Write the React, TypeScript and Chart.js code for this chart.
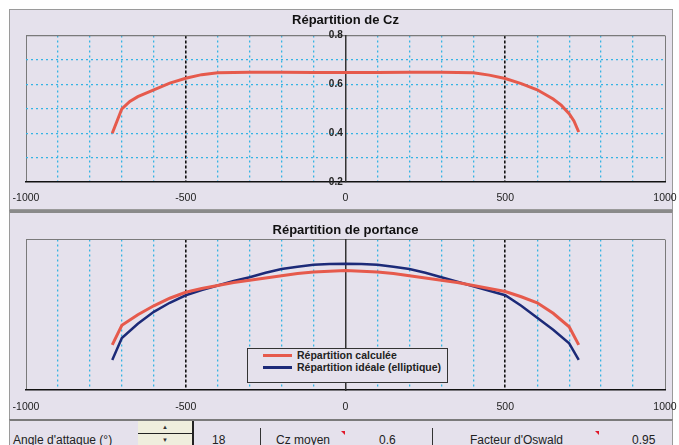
import React, { useEffect, useRef } from "react";
import { Chart, registerables } from "chart.js";

Chart.register(...registerables);

// ---- data ----
const xTickLabels = [-1000, -500, 0, 500, 1000];
const czTickLabels = [0.2, 0.4, 0.6, 0.8];

const czX = [-730, -715, -700, -675, -650, -600, -550, -500, -450, -400, -350, -300, -200, -100, 0, 100, 200, 300, 350, 400, 450, 500, 550, 600, 650, 675, 700, 715, 730];
const czY = [0.4, 0.45, 0.5, 0.53, 0.55, 0.578, 0.605, 0.625, 0.64, 0.648, 0.649, 0.65, 0.65, 0.649, 0.649, 0.649, 0.65, 0.65, 0.649, 0.648, 0.638, 0.624, 0.603, 0.578, 0.54, 0.515, 0.48, 0.45, 0.405];

const liftX = [-730, -700, -650, -600, -550, -500, -450, -400, -350, -300, -250, -200, -150, -100, -50, 0, 50, 100, 150, 200, 250, 300, 350, 400, 450, 500, 550, 600, 650, 700, 730];
const liftCalc = [0.3, 0.43, 0.5, 0.56, 0.61, 0.65, 0.675, 0.695, 0.715, 0.73, 0.745, 0.76, 0.775, 0.785, 0.79, 0.795, 0.79, 0.785, 0.775, 0.76, 0.745, 0.73, 0.715, 0.695, 0.675, 0.655, 0.62, 0.58, 0.51, 0.42, 0.3];
const liftIdeal = [0.2, 0.345, 0.44, 0.52, 0.58, 0.63, 0.665, 0.695, 0.725, 0.75, 0.78, 0.805, 0.82, 0.832, 0.838, 0.84, 0.838, 0.832, 0.82, 0.805, 0.78, 0.75, 0.72, 0.69, 0.66, 0.63, 0.56, 0.48, 0.4, 0.31, 0.2];

const seriesNames = ["Répartition calculée", "Répartition idéale (elliptique)"];
const titles = ["Répartition de Cz", "Répartition de portance"];

// ---- styles ----
const FONT = '"Liberation Sans", Arial, Helvetica, sans-serif';
const PANEL_BG = "#e5e1ec";
const GRID_BLUE = "#35b4e4";
const RED = "#e65a4c";
const BLUE = "#1c2a78";

function xGrid() {
  return {
    grid: {
      drawTicks: false,
      color: (c: any) => {
        const v = c.tick ? c.tick.value : undefined;
        if (v === undefined) return "transparent";
        if (Math.abs(v) === 1000) return "#7a7a7a";
        if (v === 0) return "#333";
        if (Math.abs(v) === 500) return "#111";
        return GRID_BLUE;
      },
      lineWidth: (c: any) => {
        const v = c.tick ? c.tick.value : 0;
        if (Math.abs(v) === 500) return 1.6;
        if (Math.abs(v) === 1000 || v === 0) return 1;
        return 1.3;
      },
    },
    border: {
      color: "#111",
      width: 1.5,
      dash: (c: any) => {
        const v = c.tick ? c.tick.value : undefined;
        if (v === undefined) return [];
        if (Math.abs(v) === 1000 || v === 0) return [];
        if (Math.abs(v) === 500) return [3, 2];
        return [2, 3];
      },
    },
  };
}

function xScale(labelPad: number, height: number) {
  return {
    type: "linear" as const,
    min: -1000,
    max: 1000,
    ticks: {
      stepSize: 100,
      autoSkip: false,
      maxRotation: 0,
      padding: labelPad,
      color: "#222",
      font: { family: FONT, size: 10.5 },
      callback: (v: any) => (xTickLabels.includes(Number(v)) ? String(v) : ""),
    },
    ...xGrid(),
    afterFit: (s: any) => {
      s.height = height;
      s.paddingLeft = 0;
      s.paddingRight = 0;
    },
  };
}

export default function App() {
  const topRef = useRef<HTMLCanvasElement | null>(null);
  const botRef = useRef<HTMLCanvasElement | null>(null);

  useEffect(() => {
    const top = new Chart(topRef.current as HTMLCanvasElement, {
      type: "line",
      data: {
        datasets: [
          {
            label: "Cz",
            data: czX.map((x, i) => ({ x, y: czY[i] })),
            borderColor: RED,
            borderWidth: 3,
            pointRadius: 0,
            tension: 0,
          },
        ],
      },
      options: {
        animation: false,
        responsive: false,
        devicePixelRatio: 1,
        layout: { padding: { left: 17, right: 14, top: 0, bottom: 0 } },
        plugins: {
          legend: { display: false },
          tooltip: { enabled: false },
          title: {
            display: true,
            text: titles[0],
            color: "#111",
            font: { family: FONT, size: 13, weight: "bold" },
            padding: { top: 4, bottom: 7 },
          },
        },
        scales: {
          x: xScale(10, 28) as any,
          y: {
            type: "linear",
            min: 0.2,
            max: 0.8,
            position: { x: 0 } as any,
            ticks: {
              stepSize: 0.1,
              autoSkip: false,
              padding: 4,
              color: "#222",
              font: { family: FONT, size: 10, weight: "bold" },
              callback: (v: any) => {
                const n = Math.round(Number(v) * 10) / 10;
                return czTickLabels.includes(n) ? n.toFixed(1) + " " : "";
              },
            },
            grid: {
              drawTicks: false,
              lineWidth: 1.3,
              color: (c: any) => {
                const v = c.tick ? Math.round(c.tick.value * 10) / 10 : undefined;
                if (v === undefined) return "transparent";
                if (v === 0.8) return "#7a7a7a";
                if (v === 0.2) return "transparent";
                return GRID_BLUE;
              },
            },
            border: {
              color: "#333",
              width: 1.5,
              dash: (c: any) => {
                const v = c.tick ? Math.round(c.tick.value * 10) / 10 : undefined;
                if (v === undefined || v === 0.8 || v === 0.2) return [];
                return [2, 3];
              },
            },
          } as any,
        },
      },
    });

    const bot = new Chart(botRef.current as HTMLCanvasElement, {
      type: "line",
      data: {
        datasets: [
          {
            label: seriesNames[0],
            data: liftX.map((x, i) => ({ x, y: liftCalc[i] })),
            borderColor: RED,
            borderWidth: 3,
            pointRadius: 0,
            tension: 0,
          },
          {
            label: seriesNames[1],
            data: liftX.map((x, i) => ({ x, y: liftIdeal[i] })),
            borderColor: BLUE,
            borderWidth: 2.5,
            pointRadius: 0,
            tension: 0,
          },
        ],
      },
      options: {
        animation: false,
        responsive: false,
        devicePixelRatio: 1,
        layout: { padding: { left: 17, right: 14, top: 0, bottom: 0 } },
        plugins: {
          legend: { display: false },
          tooltip: { enabled: false },
          title: {
            display: true,
            text: titles[1],
            color: "#111",
            font: { family: FONT, size: 13, weight: "bold" },
            padding: { top: 12, bottom: 1 },
          },
        },
        scales: {
          x: xScale(11, 29) as any,
          y: {
            type: "linear",
            min: 0,
            max: 1,
            position: { x: 0 } as any,
            ticks: { display: false, stepSize: 0.5 },
            grid: {
              drawTicks: false,
              color: (c: any) => (c.tick && c.tick.value === 1 ? "#7a7a7a" : "transparent"),
            },
            border: { color: "#333", width: 1.5 },
          } as any,
        },
      },
    });

    return () => {
      top.destroy();
      bot.destroy();
    };
  }, []);

  const abs = (l: number, t: number, extra: React.CSSProperties = {}): React.CSSProperties => ({
    position: "absolute",
    left: l,
    top: t,
    ...extra,
  });
  const txt: React.CSSProperties = { fontFamily: FONT, fontSize: 12, color: "#222", whiteSpace: "nowrap", lineHeight: "14px" };
  const legTxt: React.CSSProperties = { fontFamily: FONT, fontSize: 10.5, fontWeight: "bold", color: "#222", whiteSpace: "nowrap", lineHeight: "12px" };
  const marker = (l: number, t: number) => (
    <div style={abs(l, t, { width: 0, height: 0, borderLeft: "4px solid transparent", borderTop: "4px solid #e0182a" })} />
  );

  return (
    <div style={{ position: "fixed", left: 0, top: 0, width: 679, height: 445, background: "#fff", overflow: "hidden" }}>
      {/* panels */}
      <div style={abs(9, 9, { width: 664, height: 201, background: PANEL_BG, boxSizing: "border-box", border: "1px solid #9a9a9a" })} />
      <div style={abs(9, 210, { width: 664, height: 209, background: PANEL_BG, boxSizing: "border-box", borderTop: "3px solid #8a8a8a", borderLeft: "1px solid #9a9a9a", borderRight: "1px solid #9a9a9a" })} />
      <div style={abs(9, 419, { width: 664, height: 30, background: PANEL_BG, boxSizing: "border-box", borderTop: "2px solid #7a7a7a", borderLeft: "1px solid #9a9a9a", borderRight: "1px solid #9a9a9a" })} />

      <canvas ref={topRef} width={670} height={201} style={abs(9, 9, { width: 670, height: 201 })} />
      <canvas ref={botRef} width={670} height={208} style={abs(9, 211, { width: 670, height: 208 })} />

      {/* legend */}
      <div style={abs(247, 348, { width: 201, height: 35, boxSizing: "border-box", border: "1px solid #333", background: PANEL_BG })}>
        <div style={abs(15, 5, { width: 29, height: 3, background: RED })} />
        <div style={abs(49, 0, legTxt)}>{seriesNames[0]}</div>
        <div style={abs(15, 17, { width: 29, height: 2.5, background: BLUE })} />
        <div style={abs(49, 12, legTxt)}>{seriesNames[1]}</div>
      </div>

      {/* footer */}
      <div style={abs(13, 433, txt)}>Angle d'attaque (°)</div>
      <div style={abs(138, 421, { width: 54, height: 26, background: "#efeedd" })}>
        <div style={abs(0, 12, { width: 54, height: 1, background: "#222" })} />
        <div style={abs(0, 0, { width: 54, height: 12, fontSize: 6, lineHeight: "12px", textAlign: "center", color: "#333", fontFamily: FONT })}>▲</div>
        <div style={abs(0, 13, { width: 54, height: 12, fontSize: 6, lineHeight: "12px", textAlign: "center", color: "#333", fontFamily: FONT })}>▼</div>
      </div>
      <div style={abs(192, 421, { width: 2, height: 26, background: "#222" })} />
      <div style={abs(212, 433, txt)}>18</div>
      <div style={abs(260, 428, { width: 1, height: 18, background: "#333" })} />
      <div style={abs(276, 433, txt)}>Cz moyen</div>
      {marker(341, 431)}
      <div style={abs(379, 433, txt)}>0.6</div>
      <div style={abs(432, 428, { width: 1, height: 18, background: "#333" })} />
      <div style={abs(470, 433, txt)}>Facteur d'Oswald</div>
      {marker(595, 431)}
      <div style={abs(632, 433, txt)}>0.95</div>
    </div>
  );
}
